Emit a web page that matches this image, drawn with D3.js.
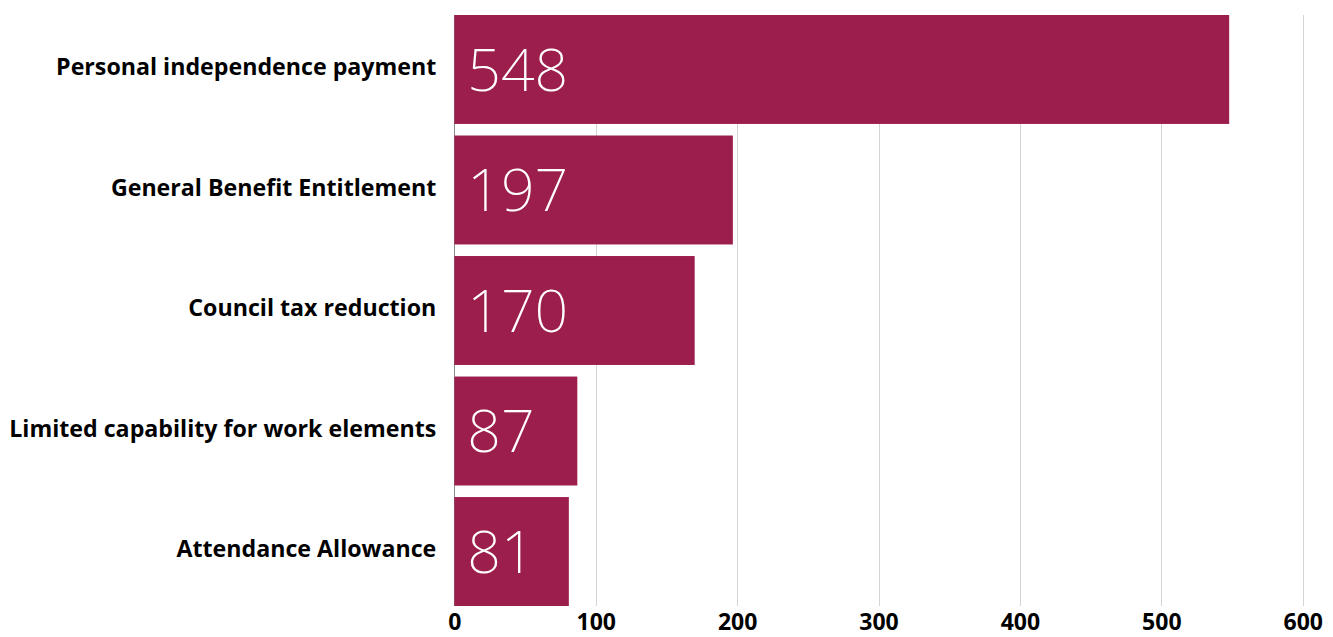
<!DOCTYPE html>
<html>
<head>
<meta charset="utf-8">
<script src="https://cdn.jsdelivr.net/npm/d3@7"></script>
<style>
  html, body { margin: 0; padding: 0; background: #ffffff; }
  svg { display: block; font-family: "Open Sans", "Noto Sans", sans-serif; }
</style>
</head>
<body>
<svg id="chart" width="1333" height="637"></svg>
<script>
// Benefit types and number of cases for each
const categories = [
  "Personal independence payment",
  "General Benefit Entitlement",
  "Council tax reduction",
  "Limited capability for work elements",
  "Attendance Allowance"
];
const values = [548, 197, 170, 87, 81];
const tickValues = [0, 100, 200, 300, 400, 500, 600];

const svg = d3.select("#chart");
const plotLeft = 454.3, plotRight = 1302.7, plotTop = 15, plotBottom = 606;
const barColor = "#9b1e4d";

const x = d3.scaleLinear().domain([0, 600]).range([plotLeft, plotRight]);
const y = d3.scaleBand().domain(categories).range([plotTop, plotBottom])
  .paddingInner(0.096).paddingOuter(0);

// Vertical gridlines
svg.append("g").selectAll("line")
  .data(tickValues.filter(d => d > 0))
  .join("line")
  .attr("x1", d => Math.round(x(d)) + 0.5).attr("x2", d => Math.round(x(d)) + 0.5)
  .attr("y1", plotTop).attr("y2", plotBottom)
  .attr("stroke", "#d4d4d4").attr("stroke-width", 1);

// Baseline at zero
svg.append("line")
  .attr("x1", Math.round(x(0)) + 0.5).attr("x2", Math.round(x(0)) + 0.5)
  .attr("y1", plotTop).attr("y2", plotBottom)
  .attr("stroke", "#8c8c8c").attr("stroke-width", 1);

// Bars
svg.append("g").selectAll("rect")
  .data(values)
  .join("rect")
  .attr("x", x(0))
  .attr("y", (d, i) => y(categories[i]))
  .attr("width", d => x(d) - x(0))
  .attr("height", y.bandwidth())
  .attr("fill", barColor);

// Value labels inside bars (light weight)
svg.append("g").selectAll("text")
  .data(values)
  .join("text")
  .attr("x", x(0) + 13)
  .attr("y", (d, i) => y(categories[i]) + y.bandwidth() / 2)
  .attr("dy", "0.36em")
  .attr("fill", "#ffffff")
  .attr("font-family", "\"Noto Sans\", \"Open Sans\", sans-serif")
  .attr("font-size", 59)
  .attr("font-weight", 250)
  .text(d => d);

// Category axis labels
svg.append("g").selectAll("text")
  .data(categories)
  .join("text")
  .attr("x", x(0) - 18)
  .attr("y", d => y(d) + y.bandwidth() / 2)
  .attr("dy", "0.25em")
  .attr("text-anchor", "end")
  .attr("fill", "#000000")
  .attr("font-size", 23.2)
  .attr("font-weight", 700)
  .text(d => d);

// Value axis
const xAxis = d3.axisBottom(x).tickValues(tickValues).tickSize(0).tickPadding(0);
const gx = svg.append("g").attr("transform", `translate(0, ${plotBottom})`).call(xAxis);
gx.select(".domain").remove();
gx.selectAll("text")
  .attr("y", 24)
  .attr("dy", 0)
  .attr("fill", "#000000")
  .attr("font-size", 23)
  .attr("font-weight", 700)
  .attr("font-family", "\"Open Sans\", \"Noto Sans\", sans-serif");
</script>
</body>
</html>
